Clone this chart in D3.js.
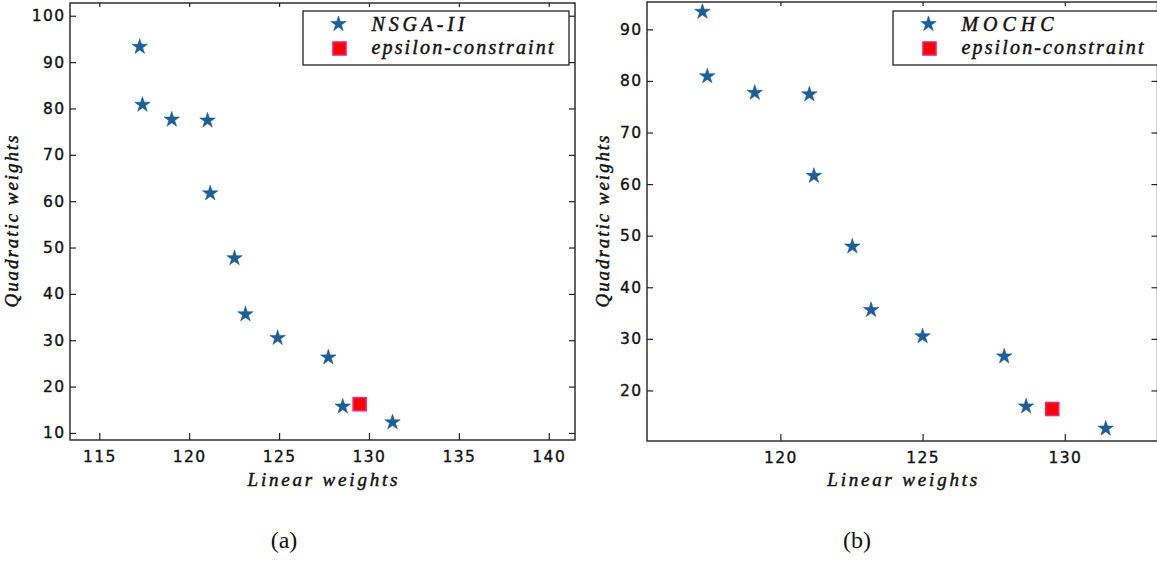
<!DOCTYPE html>
<html>
<head>
<meta charset="utf-8">
<script src="https://cdn.jsdelivr.net/npm/d3@7"></script>
<style>
  body { margin: 0; background: #fff; }
  .tick text { font-family: "DejaVu Sans", sans-serif; font-size: 15.5px; fill: #111; stroke: #111; stroke-width: 0.35px; letter-spacing: 1.4px; }
  .tick line { stroke: #222; stroke-width: 1.2; }
  .mathlabel { font-family: "Liberation Serif", serif; font-style: italic; fill: #111; stroke: #111; stroke-width: 0.45px; }
  .caption { font-family: "Liberation Serif", "Times New Roman", serif; font-size: 24px; fill: #111; }
</style>
</head>
<body>
<div id="chart"></div>
<script>
// values
const nsgaX = [117.25, 117.4, 119.03, 121.02, 121.17, 122.52, 123.13, 124.92, 127.74, 128.54, 131.31];
const nsgaY = [93.3, 80.8, 77.6, 77.4, 61.7, 47.7, 35.6, 30.5, 26.3, 15.7, 12.3];
const epsAX = [129.48];
const epsAY = [16.2];

const mochcX = [117.26, 117.43, 119.1, 121.02, 121.18, 122.53, 123.19, 125.0, 127.87, 128.64, 131.44];
const mochcY = [93.4, 80.9, 77.7, 77.4, 61.6, 47.9, 35.6, 30.5, 26.6, 16.9, 12.6];
const epsBX = [129.56];
const epsBY = [16.4];

const ticksAX = [115, 120, 125, 130, 135, 140];
const ticksAY = [10, 20, 30, 40, 50, 60, 70, 80, 90, 100];
const ticksBX = [120, 125, 130];
const ticksBY = [20, 30, 40, 50, 60, 70, 80, 90];

const width = 1157, height = 563;
const starColor = '#1b5e98';

var svg = d3.select('#chart').append('svg')
  .attr('width', width)
  .attr('height', height);

function drawPanel(p) {
  let x = d3.scaleLinear().domain(p.xDomain).range([p.left, p.right]);
  let y = d3.scaleLinear().domain(p.yDomain).range([p.bottom, p.top]);

  let g = svg.append('g');

  g.append('g')
    .attr('transform', `translate(0, ${p.bottom})`)
    .call(d3.axisBottom(x).tickValues(p.xTicks).tickSizeInner(-7).tickSizeOuter(0).tickPadding(11))
    .call(a => a.select('.domain').remove());

  g.append('g')
    .attr('transform', `translate(0, ${p.top})`)
    .call(d3.axisTop(x).tickValues(p.xTicks).tickSizeInner(-4).tickSizeOuter(0).tickFormat(''))
    .call(a => a.select('.domain').remove());

  g.append('g')
    .attr('transform', `translate(${p.left}, 0)`)
    .call(d3.axisLeft(y).tickValues(p.yTicks).tickSizeInner(-6).tickSizeOuter(0).tickPadding(4.5))
    .call(a => a.select('.domain').remove());

  g.append('g')
    .attr('transform', `translate(${p.right}, 0)`)
    .call(d3.axisRight(y).tickValues(p.yTicks).tickSizeInner(-6).tickSizeOuter(0).tickFormat(''))
    .call(a => a.select('.domain').remove());

  g.append('rect')
    .attr('x', p.left)
    .attr('y', p.top)
    .attr('width', p.right - p.left)
    .attr('height', p.bottom - p.top)
    .attr('fill', 'none')
    .attr('stroke', '#222')
    .attr('stroke-width', 1.4);

  let star = d3.symbol().type(d3.symbolStar).size(74);

  g.selectAll('path.star')
    .data(p.xs.map((v, i) => [v, p.ys[i]]))
    .enter()
    .append('path')
    .attr('class', 'star')
    .attr('d', star)
    .attr('transform', d => `translate(${x(d[0])}, ${y(d[1])})`)
    .attr('fill', starColor)
    .attr('stroke', starColor)
    .attr('stroke-width', 0.6);

  g.selectAll('rect.eps')
    .data(p.ex.map((v, i) => [v, p.ey[i]]))
    .enter()
    .append('rect')
    .attr('class', 'eps')
    .attr('x', d => x(d[0]) - 6.5)
    .attr('y', d => y(d[1]) - 6.5)
    .attr('width', 13)
    .attr('height', 13)
    .attr('fill', '#ff0000')
    .attr('stroke', '#e8247c')
    .attr('stroke-width', 1.6);

  // axis labels
  g.append('text')
    .attr('class', 'mathlabel')
    .attr('x', (p.left + p.right) / 2)
    .attr('y', 486)
    .attr('text-anchor', 'middle')
    .attr('font-size', 19)
    .attr('textLength', 150)
    .attr('lengthAdjust', 'spacing')
    .text('Linear weights');

  g.append('text')
    .attr('class', 'mathlabel')
    .attr('transform', `translate(${p.ylabelX}, ${(p.top + p.bottom) / 2}) rotate(-90)`)
    .attr('text-anchor', 'middle')
    .attr('font-size', 19)
    .attr('textLength', 172)
    .attr('lengthAdjust', 'spacing')
    .text('Quadratic weights');

  // legend
  g.append('rect')
    .attr('x', p.legX)
    .attr('y', 11)
    .attr('width', p.legW)
    .attr('height', 54)
    .attr('fill', '#fff')
    .attr('stroke', '#222')
    .attr('stroke-width', 1.3);

  g.append('path')
    .attr('d', star)
    .attr('transform', `translate(${p.legX + 35.5}, 24)`)
    .attr('fill', starColor)
    .attr('stroke', starColor)
    .attr('stroke-width', 0.6);

  g.append('rect')
    .attr('x', p.legX + 30)
    .attr('y', 42)
    .attr('width', 13)
    .attr('height', 13)
    .attr('fill', '#ff0000')
    .attr('stroke', '#e8247c')
    .attr('stroke-width', 1.6);

  g.append('text')
    .attr('class', 'mathlabel')
    .attr('x', p.legX + 68.5)
    .attr('y', 30.5)
    .attr('font-size', 20)
    .attr('textLength', p.nameLen)
    .attr('lengthAdjust', 'spacing')
    .text(p.name);

  g.append('text')
    .attr('class', 'mathlabel')
    .attr('x', p.legX + 68.5)
    .attr('y', 54)
    .attr('font-size', 20)
    .attr('textLength', 182)
    .attr('lengthAdjust', 'spacing')
    .text('epsilon-constraint');

  svg.append('text')
    .attr('class', 'caption')
    .attr('x', p.captionX)
    .attr('y', 548)
    .attr('text-anchor', 'middle')
    .text(p.caption);
}

drawPanel({
  left: 70, right: 575, top: 3, bottom: 440,
  xDomain: [113.37, 141.46], yDomain: [8.48, 102.75],
  xTicks: ticksAX, yTicks: ticksAY,
  xs: nsgaX, ys: nsgaY, ex: epsAX, ey: epsAY,
  ylabelX: 18, legX: 303, legW: 266,
  name: 'NSGA-II', nameLen: 93,
  caption: '(a)', captionX: 284
});

drawPanel({
  left: 647, right: 1157.5, top: 2, bottom: 441,
  xDomain: [115.31, 133.26], yDomain: [10.2, 95.3],
  xTicks: ticksBX, yTicks: ticksBY,
  xs: mochcX, ys: mochcY, ex: epsBX, ey: epsBY,
  ylabelX: 609, legX: 893, legW: 280,
  name: 'MOCHC', nameLen: 92,
  caption: '(b)', captionX: 857
});
</script>
</body>
</html>
